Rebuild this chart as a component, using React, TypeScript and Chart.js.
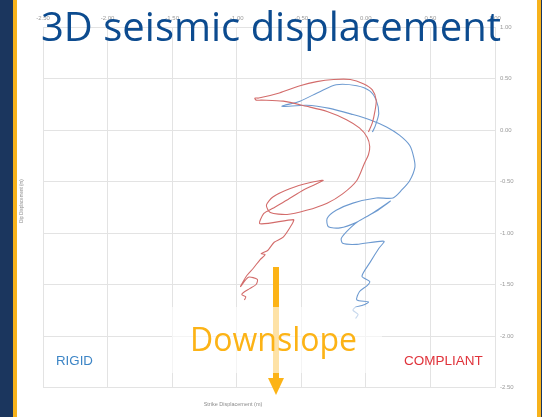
import React, { useEffect, useRef } from "react";
import { Chart, registerables } from "chart.js";

Chart.register(...registerables);

// ---- data (metres) ----
const strikeTicks = [-2.5, -2, -1.5, -1, -0.5, 0, 0.5, 1];
const dipTicks = [1, 0.5, 0, -0.5, -1, -1.5, -2, -2.5];

const compliantStrike = [
  0.02, 0.05, 0.07, 0.08, 0.05, -0.02, -0.12, -0.25, -0.38, -0.51, -0.67, -0.83,
  -0.86, -0.85, -0.81, -0.64, -0.46, -0.3, -0.15, -0.05, 0.01, 0.03, 0.02, -0.01,
  -0.07, -0.18, -0.3, -0.46, -0.61, -0.74, -0.77, -0.72, -0.59, -0.43, -0.33, -0.48,
  -0.61, -0.72, -0.79, -0.82, -0.56, -0.57, -0.64, -0.71, -0.76, -0.81, -0.78, -0.82,
  -0.87, -0.92, -0.95, -0.97, -0.91, -0.84, -0.85, -0.9, -0.95, -0.96, -0.93, -0.94,
];
const compliantDip = [
  -0.02, 0.07, 0.18, 0.29, 0.39, 0.45, 0.49, 0.49, 0.47, 0.43, 0.36, 0.31,
  0.31, 0.29, 0.29, 0.28, 0.23, 0.18, 0.1, 0.02, -0.07, -0.16, -0.24, -0.32,
  -0.49, -0.62, -0.71, -0.78, -0.82, -0.8, -0.73, -0.65, -0.57, -0.51, -0.49, -0.58,
  -0.68, -0.76, -0.81, -0.91, -0.87, -0.91, -1.04, -1.09, -1.17, -1.2, -1.21, -1.26,
  -1.34, -1.41, -1.47, -1.52, -1.43, -1.45, -1.5, -1.54, -1.58, -1.6, -1.62, -1.65,
];

const rigidStrike = [
  0.05, 0.07, 0.1, 0.08, 0.03, -0.07, -0.23, -0.36, -0.51, -0.65, -0.46, -0.28,
  -0.1, 0.03, 0.16, 0.26, 0.34, 0.37, 0.38, 0.34, 0.28, 0.21, 0.08, -0.1,
  -0.23, -0.3, -0.29, -0.2, -0.08, 0.06, 0.19, 0.08, -0.05, -0.12, -0.19, -0.18,
  -0.07, 0.14, 0.1, 0.03, -0.03, 0.03, 0.01, -0.05, -0.07, 0.02, -0.02, -0.08,
  -0.1, -0.06, -0.08,
];
const rigidDip = [
  -0.02, 0.03, 0.16, 0.29, 0.38, 0.43, 0.44, 0.37, 0.28, 0.23, 0.24, 0.21,
  0.15, 0.1, 0.03, -0.05, -0.15, -0.26, -0.36, -0.49, -0.58, -0.66, -0.66, -0.71,
  -0.78, -0.86, -0.94, -0.95, -0.9, -0.8, -0.69, -0.79, -0.88, -0.95, -1.05, -1.1,
  -1.11, -1.08, -1.15, -1.29, -1.42, -1.47, -1.51, -1.57, -1.65, -1.67, -1.7, -1.72,
  -1.75, -1.79, -1.83,
];

const NAVY = "#1b365e";
const GOLD = "#f7b21b";
const ORANGE = "#fcb316";

const zip = (xs: number[], ys: number[]) => xs.map((x, i) => ({ x, y: ys[i] }));

export default function App() {
  const ref = useRef<HTMLCanvasElement | null>(null);

  useEffect(() => {
    if (!ref.current) return;
    const gridColor = "#e3e3e3";
    const tickFont = { size: 6, family: "Liberation Sans" };
    const chart = new Chart(ref.current, {
      type: "scatter",
      data: {
        datasets: [
          {
            label: "Compliant",
            data: zip(compliantStrike, compliantDip),
            showLine: true,
            borderColor: "#d36c6b",
            borderWidth: 1.1,
            pointRadius: 0,
            tension: 0.25,
            fill: false,
          },
          {
            label: "Rigid",
            data: zip(rigidStrike, rigidDip),
            showLine: true,
            borderColor: "#6d9ad0",
            borderWidth: 1.1,
            pointRadius: 0,
            tension: 0.25,
            fill: false,
          },
        ],
      },
      options: {
        responsive: false,
        animation: false,
        events: [],
        layout: { padding: { left: 43, top: 15, right: 17, bottom: 29.5 } },
        plugins: { legend: { display: false }, tooltip: { enabled: false } },
        scales: {
          x: {
            type: "linear",
            position: "top",
            min: strikeTicks[0],
            max: strikeTicks[strikeTicks.length - 1],
            afterBuildTicks: (s: any) => {
              s.ticks = strikeTicks.map((v) => ({ value: v }));
            },
            afterFit: (s: any) => {
              s.height = 12;
            },
            grid: { color: gridColor, drawTicks: false },
            border: { color: gridColor },
            ticks: {
              font: tickFont,
              color: "#9a9a9a",
              padding: 5,
              maxRotation: 0,
              autoSkip: false,
              callback: (v: any) => Number(v).toFixed(2),
            },
          },
          y: {
            type: "linear",
            position: "right",
            min: dipTicks[dipTicks.length - 1],
            max: dipTicks[0],
            afterBuildTicks: (s: any) => {
              s.ticks = dipTicks.slice().reverse().map((v) => ({ value: v }));
            },
            afterFit: (s: any) => {
              s.width = 30;
            },
            grid: { color: gridColor, drawTicks: false },
            border: { color: gridColor },
            ticks: {
              font: tickFont,
              color: "#9a9a9a",
              padding: 5,
              autoSkip: false,
              callback: (v: any) => Number(v).toFixed(2),
            },
          },
        },
      },
    });
    return () => chart.destroy();
  }, []);

  const abs = (s: React.CSSProperties): React.CSSProperties => ({ position: "absolute", ...s });

  return (
    <div
      style={{
        position: "fixed",
        left: 0,
        top: 0,
        width: 542,
        height: 417,
        background: "#ffffff",
        overflow: "hidden",
      }}
    >
      <canvas ref={ref} width={542} height={417} style={abs({ left: 0, top: 0, width: 542, height: 417 })} />

      {/* slide frame */}
      <div style={abs({ left: 0, top: 0, width: 13, height: 417, background: NAVY })} />
      <div style={abs({ left: 13, top: 0, width: 4, height: 417, background: GOLD })} />
      <div style={abs({ left: 537, top: 0, width: 4, height: 417, background: GOLD })} />
      <div style={abs({ left: 541, top: 0, width: 1, height: 417, background: NAVY })} />

      {/* title */}
      <div
        style={abs({
          left: 41,
          top: 6,
          fontFamily: "'Open Sans', sans-serif",
          fontSize: 40,
          lineHeight: "40px",
          color: "#0c4b8f",
          whiteSpace: "nowrap",
        })}
      >
        3D seismic displacement
      </div>

      {/* axis titles */}
      <div
        style={abs({
          left: 22,
          top: 201,
          transform: "translate(-50%, -50%) rotate(-90deg) scale(0.5)",
          fontFamily: "'Liberation Sans', sans-serif",
          fontSize: 9,
          lineHeight: "9px",
          color: "#8c8c8c",
          whiteSpace: "nowrap",
        })}
      >
        Dip Displacement (m)
      </div>
      <div
        style={abs({
          left: 232.5,
          top: 404.3,
          transform: "translate(-50%, -50%) scale(0.5)",
          fontFamily: "'Liberation Sans', sans-serif",
          fontSize: 11,
          lineHeight: "11px",
          color: "#8c8c8c",
          whiteSpace: "nowrap",
        })}
      >
        Strike Displacement (m)
      </div>

      {/* labels */}
      <div
        style={abs({
          left: 56,
          top: 353.7,
          fontFamily: "'Liberation Sans', sans-serif",
          fontSize: 13.3,
          lineHeight: "13.3px",
          color: "#3d85c6",
          whiteSpace: "nowrap",
        })}
      >
        RIGID
      </div>
      <div
        style={abs({
          left: 404,
          top: 353.6,
          fontFamily: "'Liberation Sans', sans-serif",
          fontSize: 13.5,
          lineHeight: "13.5px",
          color: "#e0333b",
          whiteSpace: "nowrap",
        })}
      >
        COMPLIANT
      </div>

      {/* downslope arrow */}
      <div style={abs({ left: 273, top: 267, width: 6, height: 113, background: ORANGE })} />
      <div
        style={abs({
          left: 268,
          top: 378,
          width: 0,
          height: 0,
          borderLeft: "8.5px solid transparent",
          borderRight: "8.5px solid transparent",
          borderTop: `17px solid ${ORANGE}`,
        })}
      />
      <div style={abs({ left: 172, top: 307, width: 210, height: 66, background: "rgba(255,255,255,0.62)" })} />
      <div
        style={abs({
          left: 190,
          top: 323.3,
          fontFamily: "'Open Sans', sans-serif",
          fontSize: 32,
          lineHeight: "32px",
          color: ORANGE,
          whiteSpace: "nowrap",
        })}
      >
        Downslope
      </div>
    </div>
  );
}
